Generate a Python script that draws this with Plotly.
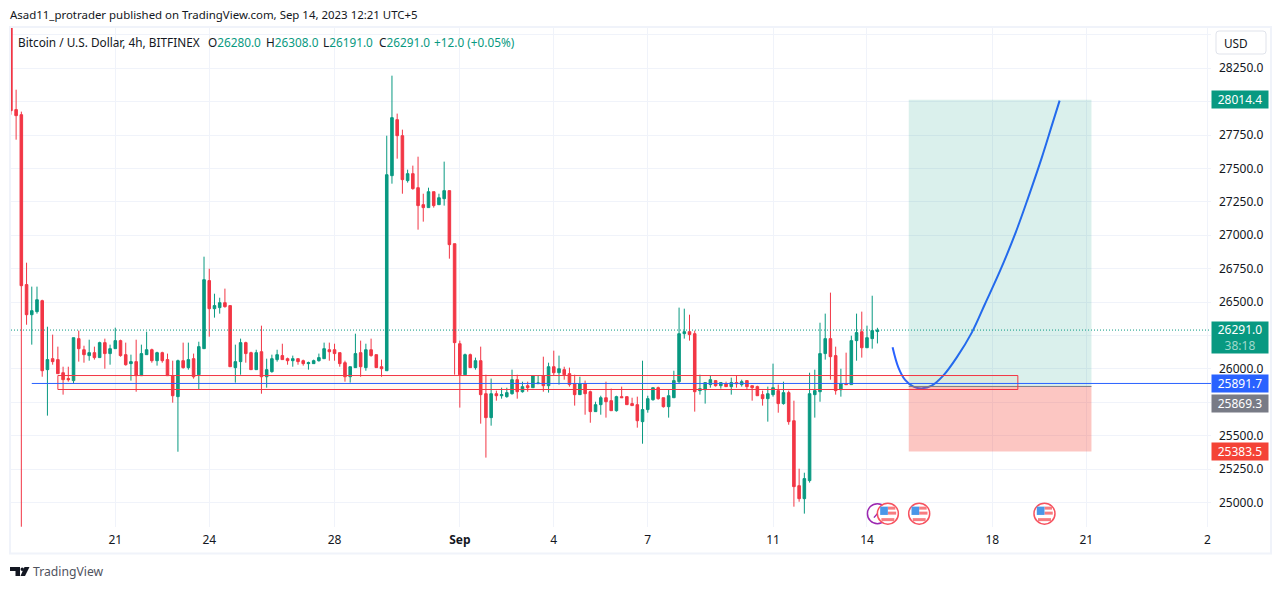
import plotly.graph_objects as go

# ---- data ----
open_ = [28680,27940,27902,26631,26406,26429,26511,25995,26077,26070,25972,25928,25913,26227,26144,26100,26122,26085,26197,26115,
26152,26212,26107,26040,26055,25950,26107,26144,26062,26122,26070,25950,25793,26062,26010,26077,25957,26152,26661,26451,
26459,26496,26474,26010,26055,26197,26122,25995,26129,25942,25980,26070,26100,26077,26062,26077,26062,26040,26040,26062,
26077,26144,26144,26122,26047,25942,26010,26122,26010,26144,26107,26017,25987,27446,27865,27745,27409,27461,27356,27229,
27207,27326,27229,27274,27334,26937,26189,25957,26107,26010,26062,25815,25636,25815,25800,25793,25815,25920,25830,25875,
25860,25890,25950,25875,26017,25972,25995,25965,25890,25808,25890,25830,25681,25733,25785,25763,25688,25793,25793,25741,
25733,25606,25696,25770,25860,25785,25718,25785,25905,26264,26279,26264,25838,25845,25883,25913,25875,25890,25868,25898,
25883,25913,25875,25868,25808,25778,25808,25838,25741,25823,25613,25127,25030,25165,25808,25830,26115,26227,26100,25845,
25890,25883,26212,26279,26159,26227,26280]
high_ = [28700,28089,27925,26795,26616,26616,26518,26316,26257,26167,26017,26017,26234,26287,26174,26219,26167,26204,26227,26182,
26309,26219,26197,26107,26219,26182,26279,26152,26129,26129,26115,26062,26070,26197,26197,26115,26204,26840,26750,26563,
26533,26601,26474,26182,26227,26204,26129,26144,26324,26077,26107,26144,26189,26085,26100,26077,26070,26055,26070,26115,
26197,26197,26189,26122,26062,26017,26264,26212,26189,26227,26107,26070,27745,28194,27910,27790,27491,27521,27588,27311,
27356,27326,27311,27551,27334,26937,26212,26115,26115,26085,26167,25957,25928,25838,25860,25860,25995,25957,25905,25905,
25950,25950,26092,26047,26137,26100,26017,26010,25957,25942,25913,25838,25755,25800,25905,25853,25800,25868,25793,25785,
25793,26062,25800,25860,25868,25785,25845,25987,26459,26451,26406,26287,25957,25898,25950,25913,25898,25905,25935,25950,
25920,25913,25875,25875,25838,25868,26040,25883,25905,25838,25763,25254,25224,25972,25995,26346,26414,26571,26167,26002,
26122,26249,26414,26429,26324,26548,26308]
low_ = [27902,27715,24820,26331,26182,26414,25942,25651,26032,25965,25808,25905,25890,26055,26047,26062,26070,26085,26002,26032,
26152,26092,26025,25913,25830,25950,26107,26047,26025,26047,25950,25748,25381,26002,25995,25928,25845,26152,26242,26384,
26414,26459,26017,25898,25957,26047,25995,25995,25815,25860,25972,26055,26070,26032,26017,26032,26025,25995,26040,26055,
26077,26062,26062,26017,25905,25898,26010,25942,25987,26092,26010,25942,25987,27386,27573,27311,27394,27341,27042,27102,
27207,27207,27229,27222,26825,25957,25711,25957,26010,25995,25591,25337,25576,25763,25778,25785,25808,25778,25823,25830,
25860,25890,25830,25823,25950,25883,25920,25868,25726,25808,25658,25598,25681,25658,25636,25688,25681,25785,25733,25726,
25561,25441,25673,25763,25770,25711,25636,25785,25890,26227,26212,25681,25808,25741,25860,25868,25853,25868,25808,25860,
25868,25845,25763,25800,25726,25606,25793,25673,25733,25583,24970,25007,24918,25150,25636,25755,26070,25920,25808,25793,
25883,25883,26062,26085,26159,26152,26191]
close_ = [27932,27895,26623,26406,26436,26518,25987,26070,26055,25965,25920,25920,26234,26152,26107,26122,26085,26197,26115,26152,
26212,26100,26032,26055,25950,26115,26144,26062,26122,26062,25950,25800,26062,26010,26070,25942,26167,26668,26451,26474,
26496,26466,26017,26055,26197,26115,25995,26122,25942,25995,26077,26107,26070,26062,26077,26055,26040,26047,26062,26085,
26152,26129,26115,26040,25942,26017,26115,26017,26144,26100,26010,26002,27453,27880,27745,27416,27461,27349,27222,27207,
27326,27222,27281,27334,26930,26197,25957,26107,26010,26062,25808,25636,25815,25800,25808,25823,25920,25830,25868,25860,
25950,25895,25875,26017,25972,26002,25957,25883,25808,25890,25815,25681,25733,25785,25755,25688,25793,25785,25733,25726,
25613,25696,25778,25860,25778,25718,25800,25913,26264,26279,26257,25830,25853,25898,25920,25875,25898,25868,25898,25890,
25905,25868,25860,25800,25778,25815,25860,25741,25823,25606,25120,25030,25180,25815,25838,26115,26227,26092,25838,25890,
25883,26212,26272,26159,26234,26287,26291]
bar_index = list(range(-20, 147))

time_tick_vals = [0, 18, 42, 66, 84, 102, 126, 144, 168, 186, 209.2]
time_tick_text = ["21", "24", "28", "<b>Sep</b>", "4", "7", "11", "14", "18", "21", "2"]
price_ticks = [28500, 28250, 28000, 27750, 27500, 27250, 27000, 26750, 26500, 26250, 26000, 25750, 25500, 25250, 25000]
price_tick_text = ["", "28250.0", "", "27750.0", "27500.0", "27250.0", "27000.0", "26750.0", "26500.0", "",
                   "26000.0", "", "25500.0", "25250.0", "25000.0"]

curve_x = [148.9,150.0,151.3,152.9,154.6,156.4,158.6,161.2,164.1,166.6,169.5,172.4,174.9,177.5,179.4,180.9]
curve_y = [26162,26012,25918,25868,25855,25875,25950,26087,26274,26486,26735,27012,27284,27583,27820,28007]

last_price = 26291.0
support_price = 25891.7
target_price = 28014.4
entry_price = 25869.3
stop_price = 25383.5
zone_top, zone_bottom = 25951, 25846.5
zone_start, zone_end = -11, 172.9
line_start = -16
box_start, box_end = 152, 187
event_x = [148, 154, 178]
clock_x = 146
event_price = 24918

GREEN = "#089981"
RED = "#f23645"
BLUE = "#2962ff"
GREY = "#787b86"
GRID = "#f0f3fa"
TEXT = "#131722"
FONT = "Noto Sans"

# page geometry
W, H = 1281, 589
L, R, T, B = 10, 1211, 27, 527


def fx(px):
    return (px - L) / (R - L)


def fy(py):
    return (B - py) / (B - T)


def poly(points):
    return "M" + " L".join(f"{fx(x):.5f},{fy(y):.5f}" for x, y in points) + " Z"


fig = go.Figure()
fig.add_trace(go.Candlestick(
    x=bar_index, open=open_, high=high_, low=low_, close=close_,
    increasing=dict(line=dict(color=GREEN, width=1), fillcolor=GREEN),
    decreasing=dict(line=dict(color=RED, width=1), fillcolor=RED),
    whiskerwidth=0, showlegend=False, hoverinfo="skip",
))
fig.add_trace(go.Scatter(
    x=curve_x, y=curve_y, mode="lines",
    line=dict(color=BLUE, width=2, shape="spline", smoothing=1.0),
    showlegend=False, hoverinfo="skip",
))

shapes = [
    # position tool
    dict(type="rect", xref="x", yref="y", x0=box_start, x1=box_end, y0=entry_price, y1=target_price,
         fillcolor="rgba(8,153,129,0.15)", line=dict(width=0)),
    dict(type="rect", xref="x", yref="y", x0=box_start, x1=box_end, y0=stop_price, y1=entry_price,
         fillcolor="rgba(244,67,54,0.30)", line=dict(width=0)),
    dict(type="line", xref="x", yref="y", x0=box_start, x1=box_end, y0=entry_price, y1=entry_price,
         line=dict(color=GREY, width=1)),
    # support zone
    dict(type="rect", xref="x", yref="y", x0=zone_start, x1=zone_end, y0=zone_bottom, y1=zone_top,
         fillcolor="rgba(255,152,0,0.05)", line=dict(color=RED, width=1)),
    # horizontal rays
    dict(type="line", xref="x", yref="y", x0=line_start, x1=210, y0=support_price, y1=support_price,
         line=dict(color=BLUE, width=1)),
    dict(type="line", xref="paper", yref="y", x0=fx(11), x1=1, y0=last_price, y1=last_price,
         line=dict(color=GREEN, width=1, dash="1px,2px")),
    # chart frame
    dict(type="rect", xref="paper", yref="paper", x0=fx(10), x1=fx(1271), y0=fy(553.5), y1=fy(27),
         line=dict(color=GRID, width=2)),
    # USD button
    dict(type="path", xref="paper", yref="paper",
         path=(f"M{fx(1219):.5f},{fy(31):.5f} L{fx(1263):.5f},{fy(31):.5f} Q{fx(1266):.5f},{fy(31):.5f} {fx(1266):.5f},{fy(34):.5f} "
               f"L{fx(1266):.5f},{fy(51):.5f} Q{fx(1266):.5f},{fy(54):.5f} {fx(1263):.5f},{fy(54):.5f} "
               f"L{fx(1219):.5f},{fy(54):.5f} Q{fx(1216):.5f},{fy(54):.5f} {fx(1216):.5f},{fy(51):.5f} "
               f"L{fx(1216):.5f},{fy(34):.5f} Q{fx(1216):.5f},{fy(31):.5f} {fx(1219):.5f},{fy(31):.5f} Z"),
         fillcolor="white", line=dict(color="#e0e3eb", width=1)),
    # TradingView logo
    dict(type="path", xref="paper", yref="paper",
         path=poly([(10, 567), (20, 567), (20, 576), (15.5, 576), (15.5, 571), (10, 571)]),
         fillcolor="#131722", line=dict(width=0)),
    dict(type="path", xref="paper", yref="paper",
         path=poly([(24.5, 567), (29.5, 567), (25, 576), (20.5, 576)]),
         fillcolor="#131722", line=dict(width=0)),
    dict(type="circle", xref="paper", yref="paper", x0=fx(20.5), x1=fx(24), y0=fy(571), y1=fy(567.5),
         fillcolor="#131722", line=dict(width=0)),
]


def pixel_shape(kind, xa, x0, x1, y0, y1, **kw):
    return dict(type=kind, xref="x", yref="y", xsizemode="pixel", ysizemode="pixel",
                xanchor=xa, yanchor=event_price, x0=x0, x1=x1, y0=y0, y1=y1, **kw)


shapes.append(pixel_shape("circle", clock_x, -10, 10, -10, 10, fillcolor="white",
                          line=dict(color="#9c27b0", width=1.5)))
shapes.append(pixel_shape("line", clock_x, 0, -3.5, 0, -4, line=dict(color="#9c27b0", width=1.5)))
shapes.append(pixel_shape("line", clock_x, 0, 3, 0, 4, line=dict(color="#9c27b0", width=1.5)))
for xa in event_x:
    shapes += [
        pixel_shape("circle", xa, -10.5, 10.5, -10.5, 10.5, fillcolor="white",
                    line=dict(color="#f7525f", width=1.5)),
        pixel_shape("rect", xa, 0, 7.5, 7, 4, fillcolor="#f77c80", line=dict(width=0)),
        pixel_shape("rect", xa, 0, 8.3, 2, -1, fillcolor="#f77c80", line=dict(width=0)),
        pixel_shape("rect", xa, -7.7, 0, 7, -1.3, fillcolor="#4a97e8", line=dict(width=0)),
        pixel_shape("rect", xa, -6.5, 6.5, -4.5, -7.5, fillcolor="#f77c80", line=dict(width=0)),
    ]


def axis_label(price, text, color, height=17, yshift=0):
    return dict(xref="paper", yref="y", x=1, y=price, xanchor="left", yanchor="middle", yshift=yshift,
                text=text, showarrow=False, bgcolor=color, width=56, height=height, borderpad=0,
                font=dict(family=FONT, size=12, color="white"), align="center")


def label(px, py, text, size=11.8, color=TEXT):
    return dict(xref="paper", yref="paper", x=fx(px - 1), y=fy(py), xanchor="left", yanchor="middle",
                text=text, showarrow=False, borderpad=0,
                font=dict(family=FONT, size=size, color=color))


annotations = [
    axis_label(target_price, f"{target_price:.1f}", GREEN),
    axis_label(last_price, f"{last_price:.1f}<br><span style='color:#9fd9cd'>38:18</span>", GREEN, height=31, yshift=-7),
    axis_label(support_price, f"{support_price:.1f}", BLUE),
    axis_label(entry_price, f"{entry_price:.1f}", GREY, yshift=-17),
    axis_label(stop_price, f"{stop_price:.1f}", "#f44336"),
    label(1224, 43, "USD"),
    label(10, 14.5, "Asad11_protrader published on TradingView.com, Sep 14, 2023 12:21 UTC+5", size=11.45),
    label(18, 41.5, "Bitcoin / U.S. Dollar, 4h, BITFINEX"),
    label(208, 41.5, f"O<span style='color:{GREEN}'>26280.0</span>"),
    label(266, 41.5, f"H<span style='color:{GREEN}'>26308.0</span>"),
    label(323, 41.5, f"L<span style='color:{GREEN}'>26191.0</span>"),
    label(378.5, 41.5, f"C<span style='color:{GREEN}'>26291.0</span>"),
    label(434, 41.5, f"<span style='color:{GREEN}'>+12.0 (+0.05%)</span>"),
    label(33, 571, "TradingView", size=12.2, color="#50535e"),
]

fig.update_layout(
    width=W, height=H, margin=dict(l=L, r=W - R, t=T, b=H - B, pad=0), autosize=False,
    paper_bgcolor="white", plot_bgcolor="white", showlegend=False,
    font=dict(family=FONT, size=12, color=TEXT),
    xaxis=dict(range=[-20.17, 209.9], rangeslider=dict(visible=False), tickmode="array",
               tickvals=time_tick_vals, ticktext=time_tick_text, showgrid=True, gridcolor=GRID, gridwidth=1,
               zeroline=False, showline=False, ticks="", ticklabelstandoff=4,
               tickfont=dict(family=FONT, size=12, color=TEXT), tickangle=0),
    yaxis=dict(range=[24818, 28558], side="right", tickmode="array", tickvals=price_ticks,
               ticktext=price_tick_text, showgrid=True, gridcolor=GRID, gridwidth=1,
               zeroline=False, showline=False, ticks="", ticklabelstandoff=7,
               tickfont=dict(family=FONT, size=12, color=TEXT)),
    shapes=shapes, annotations=annotations,
)
fig.write_html("out.html", config=dict(displayModeBar=False),
               post_script="document.body.style.margin='0';document.body.style.overflow='hidden';")
